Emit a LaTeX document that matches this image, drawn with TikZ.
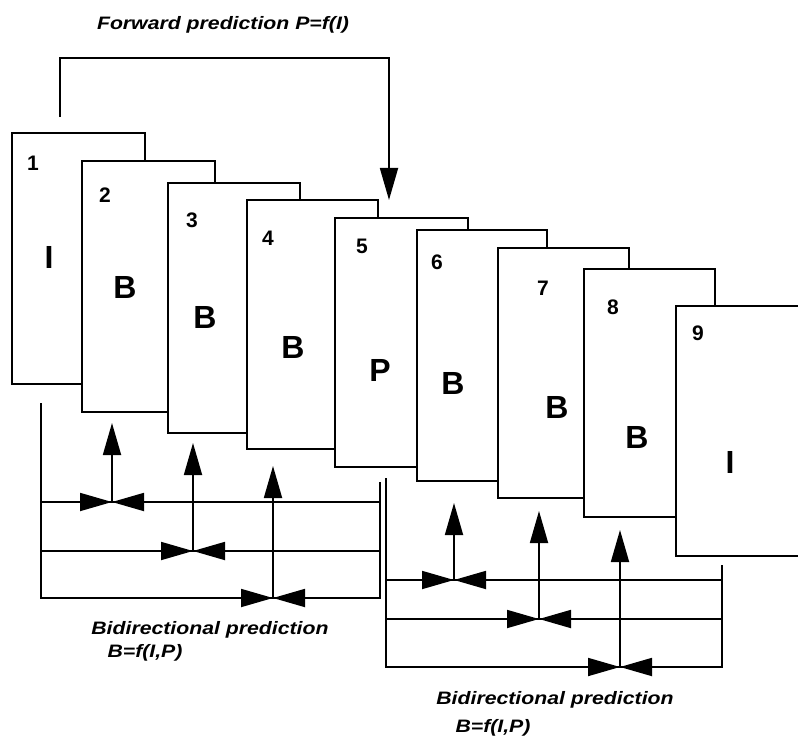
\documentclass[tikz,border=0pt]{standalone}
\usepackage{fontspec}
\setmainfont{Liberation Sans}
\usetikzlibrary{arrows.meta}

\begin{document}
\begin{tikzpicture}[x=1pt,y=-1pt,
  frame/.style={draw, fill=white, line width=1.8pt, anchor=north west,
    inner sep=0pt, outer sep=0pt},
  num/.style={font=\bfseries\fontsize{21}{21}\selectfont, inner sep=0pt},
  kind/.style={font=\bfseries\fontsize{32}{32}\selectfont, inner sep=0pt},
  caption/.style={font=\bfseries\itshape\fontsize{18}{18}\selectfont,
    xscale=1.18, inner sep=0pt},
  wire/.style={line width=1.8pt},
  uparrow/.style={line width=1.8pt, -{Triangle[length=32pt,width=18pt]}},
  meetarrow/.style={line width=1.8pt, -{Triangle[length=32pt,width=18pt]}},
]
\useasboundingbox (0,0) rectangle (798,738);
\clip (0,0) rectangle (798,738);

% frames of the sequence, drawn back to front
\node[frame, minimum width=133pt, minimum height=251pt] (p1) at (12,133) {};
\node[num]  (n1) at (33,163) {1};
\node[kind] (k1) at (49,257) {I};
\node[frame, minimum width=133pt, minimum height=251pt] (p2) at (82,161) {};
\node[num]  (n2) at (105,195) {2};
\node[kind] (k2) at (125,287) {B};
\node[frame, minimum width=132pt, minimum height=250pt] (p3) at (168,183) {};
\node[num]  (n3) at (192,220) {3};
\node[kind] (k3) at (205,317) {B};
\node[frame, minimum width=131pt, minimum height=249pt] (p4) at (247,200) {};
\node[num]  (n4) at (268,238) {4};
\node[kind] (k4) at (293,347) {B};
\node[frame, minimum width=133pt, minimum height=249pt] (p5) at (335,218) {};
\node[num]  (n5) at (362,246) {5};
\node[kind] (k5) at (380,370) {P};
\node[frame, minimum width=130pt, minimum height=251pt] (p6) at (417,230) {};
\node[num]  (n6) at (437,262) {6};
\node[kind] (k6) at (453,383) {B};
\node[frame, minimum width=131pt, minimum height=250pt] (p7) at (498,248) {};
\node[num]  (n7) at (543,288) {7};
\node[kind] (k7) at (557,407) {B};
\node[frame, minimum width=131pt, minimum height=248pt] (p8) at (584,269) {};
\node[num]  (n8) at (613,307) {8};
\node[kind] (k8) at (637,437) {B};
\node[frame, minimum width=132pt, minimum height=250pt] (p9) at (676,306) {};
\node[num]  (n9) at (698,333) {9};
\node[kind] (k9) at (730,462) {I};

% forward prediction from frame 1 to frame 5
\node[caption] (fwd) at (223,25) {Forward prediction P=f(I)};
\coordinate (fs) at (60,117);
\coordinate (fa) at (60,58);
\coordinate (fb) at (389,58);
\coordinate (fe) at (389,200);
\draw[uparrow] (fs) -- (fa) -- (fb) -- (fe);

% bidirectional prediction of frames 2-4
\coordinate (la1) at (41,403);  \coordinate (la2) at (41,598);
\coordinate (lb1) at (380,482); \coordinate (lb2) at (380,598);
\coordinate (lr1w) at (41,502); \coordinate (lr1e) at (380,502);
\coordinate (lr2w) at (41,551); \coordinate (lr2e) at (380,551);
\coordinate (lc1) at (112,502); \coordinate (lt1) at (112,423);
\coordinate (lc2) at (193,551); \coordinate (lt2) at (193,443);
\coordinate (lc3) at (273,598); \coordinate (lt3) at (273,466);
\draw[wire] (la1) -- (la2) -- (lb2) -- (lb1);
\draw[wire] (lr1w) -- (lr1e);
\draw[wire] (lr2w) -- (lr2e);
\draw[meetarrow] (lr1w) -- (lc1);
\draw[meetarrow] (lr1e) -- (lc1);
\draw[meetarrow] (lr2w) -- (lc2);
\draw[meetarrow] (lr2e) -- (lc2);
\draw[meetarrow] (la2) -- (lc3);
\draw[meetarrow] (lb2) -- (lc3);
\draw[uparrow] (lc1) -- (lt1);
\draw[uparrow] (lc2) -- (lt2);
\draw[uparrow] (lc3) -- (lt3);
\node[caption] (lcap1) at (210,630) {Bidirectional prediction};
\node[caption] (lcap2) at (145,653) {B=f(I,P)};

% bidirectional prediction of frames 6-8
\coordinate (ra1) at (386,478); \coordinate (ra2) at (386,667);
\coordinate (rb1) at (722,565); \coordinate (rb2) at (722,667);
\coordinate (rr1w) at (386,580); \coordinate (rr1e) at (722,580);
\coordinate (rr2w) at (386,619); \coordinate (rr2e) at (722,619);
\coordinate (rc1) at (454,580); \coordinate (rt1) at (454,503);
\coordinate (rc2) at (539,619); \coordinate (rt2) at (539,511);
\coordinate (rc3) at (620,667); \coordinate (rt3) at (620,530);
\draw[wire] (ra1) -- (ra2) -- (rb2) -- (rb1);
\draw[wire] (rr1w) -- (rr1e);
\draw[wire] (rr2w) -- (rr2e);
\draw[meetarrow] (rr1w) -- (rc1);
\draw[meetarrow] (rr1e) -- (rc1);
\draw[meetarrow] (rr2w) -- (rc2);
\draw[meetarrow] (rr2e) -- (rc2);
\draw[meetarrow] (ra2) -- (rc3);
\draw[meetarrow] (rb2) -- (rc3);
\draw[uparrow] (rc1) -- (rt1);
\draw[uparrow] (rc2) -- (rt2);
\draw[uparrow] (rc3) -- (rt3);
\node[caption] (rcap1) at (555,700) {Bidirectional prediction};
\node[caption] (rcap2) at (493,728) {B=f(I,P)};
\end{tikzpicture}
\end{document}
